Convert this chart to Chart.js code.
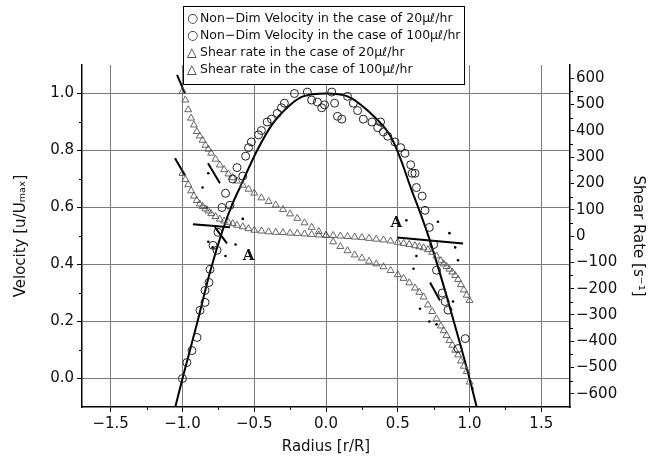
<!DOCTYPE html>
<html>
<head>
<meta charset="utf-8">
<script src="https://cdn.jsdelivr.net/npm/chart.js@4.4.0/dist/chart.umd.min.js"></script>
<style>
  html, body { margin: 0; background: #fff; }
</style>
</head>
<body>
<canvas id="chart" width="658" height="463"></canvas>
<script>
// tick labels
const xTicks = [-1.5, -1, -0.5, 0, 0.5, 1, 1.5]
const velTicks = [0, 0.2, 0.4, 0.6, 0.8, 1.0]
const shearTicks = [-600, -500, -400, -300, -200, -100, 0, 100, 200, 300, 400, 500, 600]
const xMinor = [-1.25, -0.75, -0.25, 0.25, 0.75, 1.25]
const velMinor = [0.1, 0.3, 0.5, 0.7, 0.9]
const shearMinor = [-550, -450, -350, -250, -150, -50, 50, 150, 250, 350, 450, 550]

const legendLabels = [
  "Non\u2212Dim Velocity in the case of 20\u03bc\u2113/hr",
  "Non\u2212Dim Velocity in the case of 100\u03bc\u2113/hr",
  "Shear rate in the case of 20\u03bc\u2113/hr",
  "Shear rate in the case of 100\u03bc\u2113/hr"
]

// velocity profile fit (solid line)
const fitX = [-1.05, -1.0, -0.9, -0.81, -0.72, -0.65, -0.6, -0.48, -0.37, -0.25, -0.16, 0, 0.15, 0.29, 0.45, 0.52, 0.59, 0.65, 0.72, 0.84, 0.93, 1.0, 1.05]
const fitY = [-0.1, 0.0, 0.19, 0.37, 0.52, 0.615, 0.67, 0.8, 0.895, 0.96, 0.99, 1.0, 0.99, 0.94, 0.85, 0.77, 0.67, 0.59, 0.49, 0.29, 0.13, 0.0, -0.1]

// non-dim velocity, 20 ul/hr
const vel20X = [-1.0, -0.934, -0.878, -0.843, -0.808, -0.759, -0.725, -0.669, -0.62, -0.56, -0.52, -0.45, -0.38, -0.31, -0.22, -0.10, -0.01, 0.06, 0.11, 0.19, 0.26, 0.36, 0.40, 0.48, 0.55, 0.60, 0.63, 0.69, 0.75, 0.81, 0.85, 0.97]
const vel20Y = [0.0, 0.098, 0.239, 0.309, 0.383, 0.45, 0.60, 0.608, 0.74, 0.78, 0.83, 0.87, 0.91, 0.95, 1.0, 0.977, 0.96, 0.966, 0.91, 0.966, 0.91, 0.88, 0.865, 0.83, 0.79, 0.72, 0.67, 0.59, 0.47, 0.30, 0.24, 0.14]
// non-dim velocity, 100 ul/hr
const vel100X = [-0.969, -0.899, -0.843, -0.815, -0.787, -0.753, -0.70, -0.65, -0.58, -0.54, -0.47, -0.41, -0.34, -0.29, -0.13, -0.06, -0.03, 0.04, 0.08, 0.15, 0.22, 0.32, 0.38, 0.43, 0.52, 0.59, 0.62, 0.67, 0.72, 0.77, 0.83, 0.92]
const vel100Y = [0.056, 0.144, 0.267, 0.337, 0.467, 0.513, 0.65, 0.70, 0.71, 0.81, 0.855, 0.9, 0.93, 0.966, 1.005, 0.97, 0.95, 1.005, 0.92, 0.99, 0.94, 0.9, 0.9, 0.85, 0.81, 0.75, 0.72, 0.64, 0.53, 0.38, 0.27, 0.105]

// shear rate
const shearX = [-1.0, -0.98, -0.96, -0.94, -0.92, -0.9, -0.88, -0.86, -0.84, -0.82, -0.8, -0.77, -0.74, -0.71, -0.68, -0.65, -0.62, -0.58, -0.54, -0.5, -0.45, -0.4, -0.35, -0.3, -0.25, -0.2, -0.15, -0.1, -0.05, 0, 0.05, 0.1, 0.15, 0.2, 0.25, 0.3, 0.35, 0.4, 0.45, 0.5, 0.54, 0.58, 0.62, 0.65, 0.68, 0.71, 0.74, 0.77, 0.8, 0.82, 0.84, 0.86, 0.88, 0.9, 0.92, 0.94, 0.96, 0.98, 1.0]
const shear20 = [238, 215, 195, 172, 152, 135, 122, 112, 103, 95, 85, 74, 64, 57, 52, 47, 41, 35, 28, 22, 19, 16, 14, 13, 11, 10, 8, 6, 4, 3, 2, 0, -2, -4, -6, -9, -12, -15, -19, -24, -28, -32, -37, -41, -45, -52, -62, -76, -94, -106, -116, -126, -137, -150, -165, -185, -205, -225, -245]
const shear100 = [550, 517, 480, 448, 422, 397, 380, 364, 345, 330, 315, 292, 270, 252, 236, 222, 209, 193, 178, 163, 145, 131, 118, 101, 84, 67, 50, 33, 17, 2, -22, -40, -56, -72, -84, -96, -106, -117, -131, -147, -161, -178, -198, -214, -232, -262, -287, -315, -342, -360, -378, -397, -415, -434, -452, -475, -495, -515, -555]

// scattered small dots
const dotX = [-0.82, -0.86, -0.83, -0.82, -0.79, -0.70, -0.63, -0.58, 0.56, 0.78, 0.86, 0.90, 0.63, 0.61, 0.92, 0.885, 0.655, 0.72, 0.77, 1.02]
const dotY = [0.72, 0.67, 0.60, 0.48, 0.46, 0.43, 0.47, 0.56, 0.555, 0.55, 0.51, 0.46, 0.43, 0.385, 0.415, 0.27, 0.245, 0.20, 0.19, -0.035]

// tangent lines drawn on the shear curves [x1, y1, x2, y2] in velocity units
const tangents = [
  [-1.038, 1.065, -0.983, 1.001],
  [-1.052, 0.773, -0.983, 0.713],
  [-0.822, 0.755, -0.739, 0.685],
  [-0.927, 0.541, -0.669, 0.531],
  [-0.774, 0.531, -0.69, 0.474],
  [0.495, 0.495, 0.955, 0.474],
  [0.725, 0.337, 0.794, 0.274]
]
const markA = [[-0.54, 0.43], [0.49, 0.545]]

const font = "DejaVu Sans"
const pts = (xs, ys) => xs.map((x, i) => ({ x, y: ys[i] }))
const minus = s => s.replace("-", "\u2212")

const datasets = [
  { label: legendLabels[0], data: pts(vel20X, vel20Y), yAxisID: "y", pointStyle: "circle", pointRadius: 4,
    borderColor: "#222", backgroundColor: "rgba(0,0,0,0)", pointBorderWidth: 1 },
  { label: legendLabels[1], data: pts(vel100X, vel100Y), yAxisID: "y", pointStyle: "circle", pointRadius: 4,
    borderColor: "#222", backgroundColor: "rgba(0,0,0,0)", pointBorderWidth: 1 },
  { label: legendLabels[2], data: pts(shearX, shear20), yAxisID: "y2", pointStyle: "triangle", pointRadius: 4,
    borderColor: "#555", backgroundColor: "rgba(0,0,0,0)", pointBorderWidth: 0.9 },
  { label: legendLabels[3], data: pts(shearX, shear100), yAxisID: "y2", pointStyle: "triangle", pointRadius: 4,
    borderColor: "#555", backgroundColor: "rgba(0,0,0,0)", pointBorderWidth: 0.9 },
  { label: "fit", data: pts(fitX, fitY), yAxisID: "y", showLine: true, pointRadius: 0,
    borderColor: "#000", borderWidth: 2, cubicInterpolationMode: "monotone" },
  { label: "dots", data: pts(dotX, dotY), yAxisID: "y", pointRadius: 1.3, pointStyle: "circle",
    borderColor: "#000", backgroundColor: "#000", pointBorderWidth: 0 }
]
tangents.forEach(t => {
  datasets.push({ label: "tangent", data: [{ x: t[0], y: t[1] }, { x: t[2], y: t[3] }], yAxisID: "y",
    showLine: true, pointRadius: 0, borderColor: "#000", borderWidth: 2 })
})

const minorTicks = {
  id: "minorTicks",
  afterDraw(chart) {
    const ctx = chart.ctx
    const a = chart.chartArea
    const { x, y, y2 } = chart.scales
    ctx.save()
    ctx.strokeStyle = "#000"
    ctx.lineWidth = 1
    ctx.beginPath()
    xMinor.forEach(v => { const p = Math.round(x.getPixelForValue(v)) + 0.5; ctx.moveTo(p, a.bottom); ctx.lineTo(p, a.bottom + 3) })
    velMinor.forEach(v => { const p = Math.round(y.getPixelForValue(v)) + 0.5; ctx.moveTo(a.left, p); ctx.lineTo(a.left - 3, p) })
    shearMinor.forEach(v => { const p = Math.round(y2.getPixelForValue(v)) + 0.5; ctx.moveTo(a.right, p); ctx.lineTo(a.right + 3, p) })
    ctx.stroke()
    ctx.restore()
  }
}

const labelsAndLegend = {
  id: "labelsAndLegend",
  afterDraw(chart) {
    const ctx = chart.ctx
    const { x, y } = chart.scales
    ctx.save()
    ctx.fillStyle = "#111"
    ctx.font = "bold 15px 'DejaVu Serif'"
    ctx.textAlign = "center"
    ctx.textBaseline = "middle"
    markA.forEach(m => ctx.fillText("A", x.getPixelForValue(m[0]), y.getPixelForValue(m[1])))

    // legend box
    ctx.fillStyle = "#fff"
    ctx.strokeStyle = "#000"
    ctx.lineWidth = 1
    ctx.fillRect(183.5, 6.5, 281, 78)
    ctx.strokeRect(183.5, 6.5, 281, 78)
    ctx.fillStyle = "#111"
    ctx.textAlign = "left"
    ctx.font = "12.5px " + font
    const symbols = ["\u25cb", "\u25cb", "\u25b3", "\u25b3"]
    legendLabels.forEach((t, i) => {
      const ty = 19 + i * 17
      ctx.fillText(symbols[i], 187, ty)
      ctx.fillText(t, 200, ty)
    })
    ctx.restore()
  }
}

const gridColor = "#7a7a7a"

new Chart(document.getElementById("chart"), {
  type: "scatter",
  data: { datasets },
  options: {
    responsive: false,
    animation: false,
    devicePixelRatio: 1,
    layout: { padding: { top: 65, left: 0, right: 0, bottom: 0 } },
    plugins: { legend: { display: false }, tooltip: { enabled: false } },
    scales: {
      x: {
        type: "linear", min: -1.7, max: 1.7,
        afterBuildTicks: s => { s.ticks = xTicks.map(v => ({ value: v })) },
        afterFit: s => { s.height = 56 },
        ticks: { callback: v => minus(v.toFixed(1)), font: { family: font, size: 15 }, color: "#111", padding: 3 },
        grid: { color: gridColor, lineWidth: 1, tickLength: 5, tickColor: "#000" },
        border: { display: true, color: "#000", width: 1.5 },
        title: { display: true, text: "Radius [r/R]", font: { family: font, size: 15 }, color: "#111", padding: { bottom: 7 } }
      },
      y: {
        type: "linear", position: "left", min: -0.1, max: 1.1,
        afterBuildTicks: s => { s.ticks = velTicks.map(v => ({ value: v })) },
        afterFit: s => { s.width = 82 },
        ticks: { callback: v => v.toFixed(1), font: { family: font, size: 15 }, color: "#111", padding: 3 },
        grid: { color: gridColor, lineWidth: 1, tickLength: 5, tickColor: "#000" },
        border: { display: true, color: "#000", width: 1.5 },
        title: { display: true, text: "Velocity [u/U\u2098\u2090\u2093]", font: { family: font, size: 15 }, color: "#111", padding: { top: 12 } }
      },
      y2: {
        type: "linear", position: "right", min: -650, max: 650,
        afterBuildTicks: s => { s.ticks = shearTicks.map(v => ({ value: v })) },
        afterFit: s => { s.width = 88 },
        ticks: { callback: v => v < 0 ? "\u2212" + (-v) : String(v), font: { family: font, size: 15 }, color: "#111", padding: 2 },
        grid: { drawOnChartArea: false, tickLength: 4, tickColor: "#000" },
        border: { display: true, color: "#000", width: 1.5 },
        title: { display: true, text: "Shear Rate [s\u207b\u00b9]", font: { family: font, size: 15 }, color: "#111", padding: { top: 11 } }
      }
    }
  },
  plugins: [minorTicks, labelsAndLegend]
})
</script>
</body>
</html>
